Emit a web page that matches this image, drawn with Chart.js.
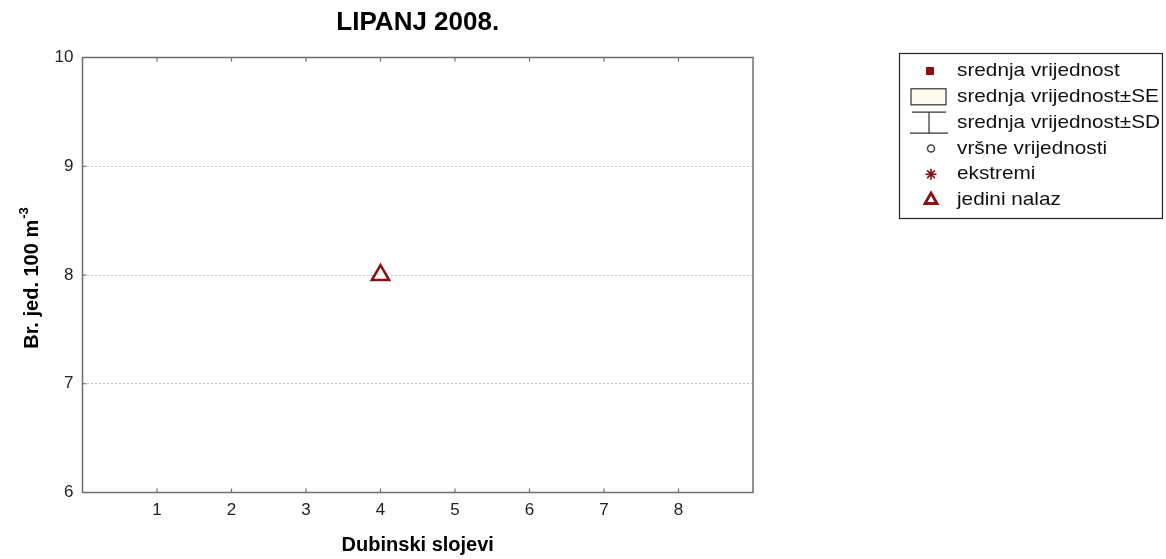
<!DOCTYPE html>
<html><head><meta charset="utf-8">
<script src="https://cdn.jsdelivr.net/npm/chart.js@4/dist/chart.umd.min.js"></script>
<style>html,body{margin:0;padding:0;background:#fff;}</style>
</head><body>
<canvas id="c" width="1166" height="559"></canvas>
<script>
// ---- data ----
const chartTitle = 'LIPANJ 2008.';
const xAxisTitle = 'Dubinski slojevi';
const yAxisTitle = 'Br. jed. 100 m';
const yAxisTitleSup = '-3';
const xTickValues = [1, 2, 3, 4, 5, 6, 7, 8];
const yTickValues = [6, 7, 8, 9, 10];
const xRange = [0, 9];
const yRange = [6, 10];
const singleFindX = [4];
const singleFindY = [8];
const legendLabels = ['srednja vrijednost', 'srednja vrijednost±SE', 'srednja vrijednost±SD', 'vršne vrijednosti', 'ekstremi', 'jedini nalaz'];
const legendKinds = ['mean', 'se', 'sd', 'outlier', 'extreme', 'single'];

const FONT = "'Liberation Sans', Arial, sans-serif";
const DARKRED = '#8b1010';
const AXISCOL = '#6e6e6e';

const framePlugin = {
  id: 'frame',
  afterDraw(chart) {
    const {ctx, chartArea: a, scales} = chart;
    ctx.save();
    ctx.strokeStyle = AXISCOL;
    ctx.lineWidth = 1.5;
    ctx.strokeRect(a.left, a.top, a.right - a.left, a.bottom - a.top);
    ctx.lineWidth = 1.2;
    ctx.beginPath();
    xTickValues.forEach(v => {
      const px = scales.x.getPixelForValue(v);
      ctx.moveTo(px, a.bottom); ctx.lineTo(px, a.bottom - 4);
      ctx.moveTo(px, a.top); ctx.lineTo(px, a.top + 4);
    });
    yTickValues.forEach(v => {
      const py = scales.y.getPixelForValue(v);
      ctx.moveTo(a.left, py); ctx.lineTo(a.left + 4, py);
    });
    ctx.stroke();

    // y axis title with superscript
    const midY = (a.top + a.bottom) / 2 + 3;
    ctx.translate(32, midY);
    ctx.rotate(-Math.PI / 2);
    ctx.fillStyle = '#000';
    ctx.textBaseline = 'middle';
    ctx.font = 'bold 20px ' + FONT;
    const w1 = ctx.measureText(yAxisTitle).width;
    ctx.font = 'bold 13px ' + FONT;
    const w2 = ctx.measureText(yAxisTitleSup).width;
    const start = -(w1 + w2 + 1) / 2;
    ctx.font = 'bold 20px ' + FONT;
    ctx.textAlign = 'left';
    ctx.fillText(yAxisTitle, start, 0);
    ctx.font = 'bold 13px ' + FONT;
    ctx.fillText(yAxisTitleSup, start + w1 + 1, -8);
    ctx.restore();

    // legend
    const bx = 899.5, by = 53.5, bw = 263, bh = 165;
    ctx.save();
    ctx.fillStyle = '#fff';
    ctx.fillRect(bx, by, bw, bh);
    ctx.strokeStyle = '#222';
    ctx.lineWidth = 1.2;
    ctx.strokeRect(bx, by, bw, bh);
    const rowY0 = 71, rowStep = 25.8, mx = 930, tx = 957;
    ctx.font = '19px ' + FONT;
    const refW = ctx.measureText(legendLabels[2]).width;
    const sx = 203 / refW;
    legendKinds.forEach((k, i) => {
      const y = rowY0 + i * rowStep;
      ctx.save();
      if (k === 'mean') {
        ctx.fillStyle = DARKRED;
        ctx.fillRect(mx - 4, y - 4, 8, 8);
      } else if (k === 'se') {
        ctx.fillStyle = '#fffaf0';
        ctx.strokeStyle = '#333';
        ctx.lineWidth = 1.2;
        ctx.fillRect(911, y - 8, 35, 16);
        ctx.strokeRect(911, y - 8, 35, 16);
      } else if (k === 'sd') {
        ctx.strokeStyle = '#333';
        ctx.lineWidth = 1.2;
        ctx.beginPath();
        ctx.moveTo(912, y - 10.5); ctx.lineTo(946, y - 10.5);
        ctx.moveTo(929, y - 10.5); ctx.lineTo(929, y + 10.5);
        ctx.moveTo(910, y + 10.5); ctx.lineTo(948, y + 10.5);
        ctx.stroke();
      } else if (k === 'outlier') {
        ctx.strokeStyle = '#444';
        ctx.lineWidth = 1.5;
        ctx.beginPath();
        ctx.arc(mx + 1, y, 3.5, 0, Math.PI * 2);
        ctx.stroke();
      } else if (k === 'extreme') {
        ctx.strokeStyle = DARKRED;
        ctx.lineWidth = 1.6;
        ctx.beginPath();
        const r = 5.5;
        for (let j = 0; j < 4; j++) {
          const ang = j * Math.PI / 4;
          ctx.moveTo(mx + 1 - Math.cos(ang) * r, y - Math.sin(ang) * r);
          ctx.lineTo(mx + 1 + Math.cos(ang) * r, y + Math.sin(ang) * r);
        }
        ctx.stroke();
      } else if (k === 'single') {
        ctx.strokeStyle = DARKRED;
        ctx.lineWidth = 2.8;
        ctx.lineJoin = 'miter';
        const r = 7;
        ctx.beginPath();
        ctx.moveTo(mx + 1, y - r);
        ctx.lineTo(mx + 1 + r * 0.866, y + r * 0.5);
        ctx.lineTo(mx + 1 - r * 0.866, y + r * 0.5);
        ctx.closePath();
        ctx.stroke();
      }
      ctx.restore();
      ctx.save();
      ctx.fillStyle = '#111';
      ctx.font = '19px ' + FONT;
      ctx.textBaseline = 'middle';
      ctx.translate(tx, y);
      ctx.scale(sx, 1);
      ctx.fillText(legendLabels[i], 0, 0);
      ctx.restore();
    });
    ctx.restore();
  }
};

new Chart(document.getElementById('c'), {
  type: 'scatter',
  data: {
    datasets: [{
      label: 'jedini nalaz',
      data: singleFindX.map((x, i) => ({x, y: singleFindY[i]})),
      pointStyle: 'triangle',
      pointRadius: 10,
      pointHoverRadius: 10,
      borderWidth: 2.5,
      borderColor: DARKRED,
      backgroundColor: '#ffffff'
    }]
  },
  options: {
    responsive: false,
    animation: false,
    events: [],
    layout: {padding: {left: 0, right: 413, top: 0, bottom: 0}},
    plugins: {
      legend: {display: false},
      tooltip: {enabled: false},
      title: {
        display: true,
        text: chartTitle,
        fullSize: false,
        color: '#000',
        font: {family: FONT, size: 26, weight: 'bold'},
        padding: {top: 7.4, bottom: 18.9}
      }
    },
    scales: {
      x: {
        type: 'linear',
        min: xRange[0], max: xRange[1],
        afterBuildTicks: s => { s.ticks = xTickValues.map(v => ({value: v})); },
        afterFit: s => { s.height = 66.5; },
        grid: {display: false, drawTicks: false},
        border: {display: false},
        ticks: {color: '#222', padding: 8, font: {family: FONT, size: 17}, maxRotation: 0},
        title: {display: true, text: xAxisTitle, color: '#000', font: {family: FONT, size: 20, weight: 'bold'}, padding: {top: 0, bottom: 2}}
      },
      y: {
        type: 'linear',
        min: yRange[0], max: yRange[1],
        afterBuildTicks: s => { s.ticks = yTickValues.map(v => ({value: v})); },
        afterFit: s => { s.width = 82.5; },
        grid: {
          drawTicks: false,
          lineWidth: 1,
          color: c => (c.tick && (c.tick.value === yRange[0] || c.tick.value === yRange[1])) ? 'rgba(0,0,0,0)' : '#c6c6c6'
        },
        border: {display: false, dash: [2, 2]},
        ticks: {color: '#222', padding: 9, font: {family: FONT, size: 17}}
      }
    }
  },
  plugins: [framePlugin]
});
</script>
</body></html>
